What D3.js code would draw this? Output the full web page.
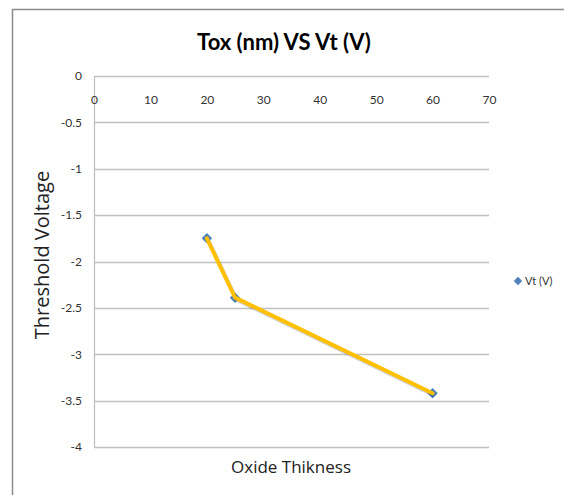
<!DOCTYPE html>
<html>
<head>
<meta charset="utf-8">
<script src="https://cdn.jsdelivr.net/npm/d3@7"></script>
<style>
  body { margin: 0; background: #fff; }
  text { font-family: Lato, "Open Sans", sans-serif; }
  .axis-title { font-family: "Open Sans", Lato, sans-serif; }
</style>
</head>
<body>
<svg width="564" height="495"></svg>
<script>
// data
var oxide = [20, 25, 60];
var vt = [-1.75, -2.39, -3.42];
var xTicks = [0, 10, 20, 30, 40, 50, 60, 70];
var yTicks = [0, -0.5, -1, -1.5, -2, -2.5, -3, -3.5, -4];

var svg = d3.select("svg");

// outer chart frame (runs off the right and bottom)
svg.append("path")
    .attr("d", "M12.5,495 L12.5,9.5 L564,9.5")
    .attr("fill", "none")
    .attr("stroke", "#8c8c8c")
    .attr("stroke-width", 1.5);

var margin = {top: 76, left: 94, right: 75, bottom: 48};
var width = 489 - margin.left;
var height = 447 - margin.top;

var g = svg.append("g").attr("transform", "translate(" + margin.left + "," + margin.top + ")");

var x = d3.scaleLinear().domain([0, 70]).range([0, width]);
var y = d3.scaleLinear().domain([0, -4]).range([0, height]);

// plain hyphen for negatives, like the original
var fmt = function(d) { return String(d); };

// horizontal gridlines
g.selectAll(".grid")
    .data(yTicks)
    .enter().append("line")
    .attr("x1", 0)
    .attr("x2", width)
    .attr("y1", function(d) { return Math.round(y(d)) + 0.5; })
    .attr("y2", function(d) { return Math.round(y(d)) + 0.5; })
    .attr("stroke", "#c0c0c0")
    .attr("stroke-width", 1.3);

// y axis
var yAxis = g.append("g")
    .call(d3.axisLeft(y).tickValues(yTicks).tickSize(0).tickPadding(12).tickFormat(fmt));
yAxis.select(".domain").attr("stroke", "#c0c0c0").attr("stroke-width", 1.3);
yAxis.selectAll("text").attr("font-size", 12).attr("fill", "#333");

// x axis sits on the 0 line, labels hang below it
var xAxis = g.append("g")
    .call(d3.axisBottom(x).tickValues(xTicks).tickSize(0).tickPadding(19).tickFormat(fmt));
xAxis.select(".domain").remove();
xAxis.selectAll("text").attr("font-size", 12).attr("fill", "#333");

var pts = oxide.map(function(d, i) { return [d, vt[i]]; });

// blue diamond markers
g.selectAll(".pt")
    .data(pts)
    .enter().append("path")
    .attr("d", d3.symbol().type(d3.symbolDiamond2).size(70))
    .attr("transform", function(d) { return "translate(" + x(d[0]) + "," + y(d[1]) + ")"; })
    .attr("fill", "#4f81bd");

var line = d3.line()
    .x(function(d) { return x(d[0]); })
    .y(function(d) { return y(d[1]); });

// soft shadow under the trend line
g.append("path")
    .datum(pts)
    .attr("d", line)
    .attr("transform", "translate(1.5,2)")
    .attr("fill", "none")
    .attr("stroke", "#000")
    .attr("stroke-opacity", 0.18)
    .attr("stroke-width", 4)
    .attr("stroke-linejoin", "round");

g.append("path")
    .datum(pts)
    .attr("d", line)
    .attr("fill", "none")
    .attr("stroke", "#ffc000")
    .attr("stroke-width", 4)
    .attr("stroke-linejoin", "round")
    .attr("stroke-linecap", "round");

// title
svg.append("text")
    .attr("x", 284)
    .attr("y", 50)
    .attr("text-anchor", "middle")
    .attr("font-size", 22)
    .attr("font-weight", "bold")
    .attr("fill", "#000")
    .text("Tox (nm) VS Vt (V)");

// axis titles
svg.append("text")
    .attr("class", "axis-title")
    .attr("transform", "translate(49,255) rotate(-90)")
    .attr("text-anchor", "middle")
    .attr("font-size", 20)
    .attr("fill", "#222")
    .text("Threshold Voltage");

svg.append("text")
    .attr("class", "axis-title")
    .attr("x", 291)
    .attr("y", 473)
    .attr("text-anchor", "middle")
    .attr("font-size", 17)
    .attr("fill", "#222")
    .text("Oxide Thikness");

// legend
var leg = svg.append("g").attr("transform", "translate(518,281)");
leg.append("path")
    .attr("d", d3.symbol().type(d3.symbolDiamond2).size(45))
    .attr("fill", "#4f81bd");
leg.append("text")
    .attr("x", 7)
    .attr("y", 4)
    .attr("font-size", 11)
    .attr("fill", "#333")
    .text("Vt (V)");
</script>
</body>
</html>
